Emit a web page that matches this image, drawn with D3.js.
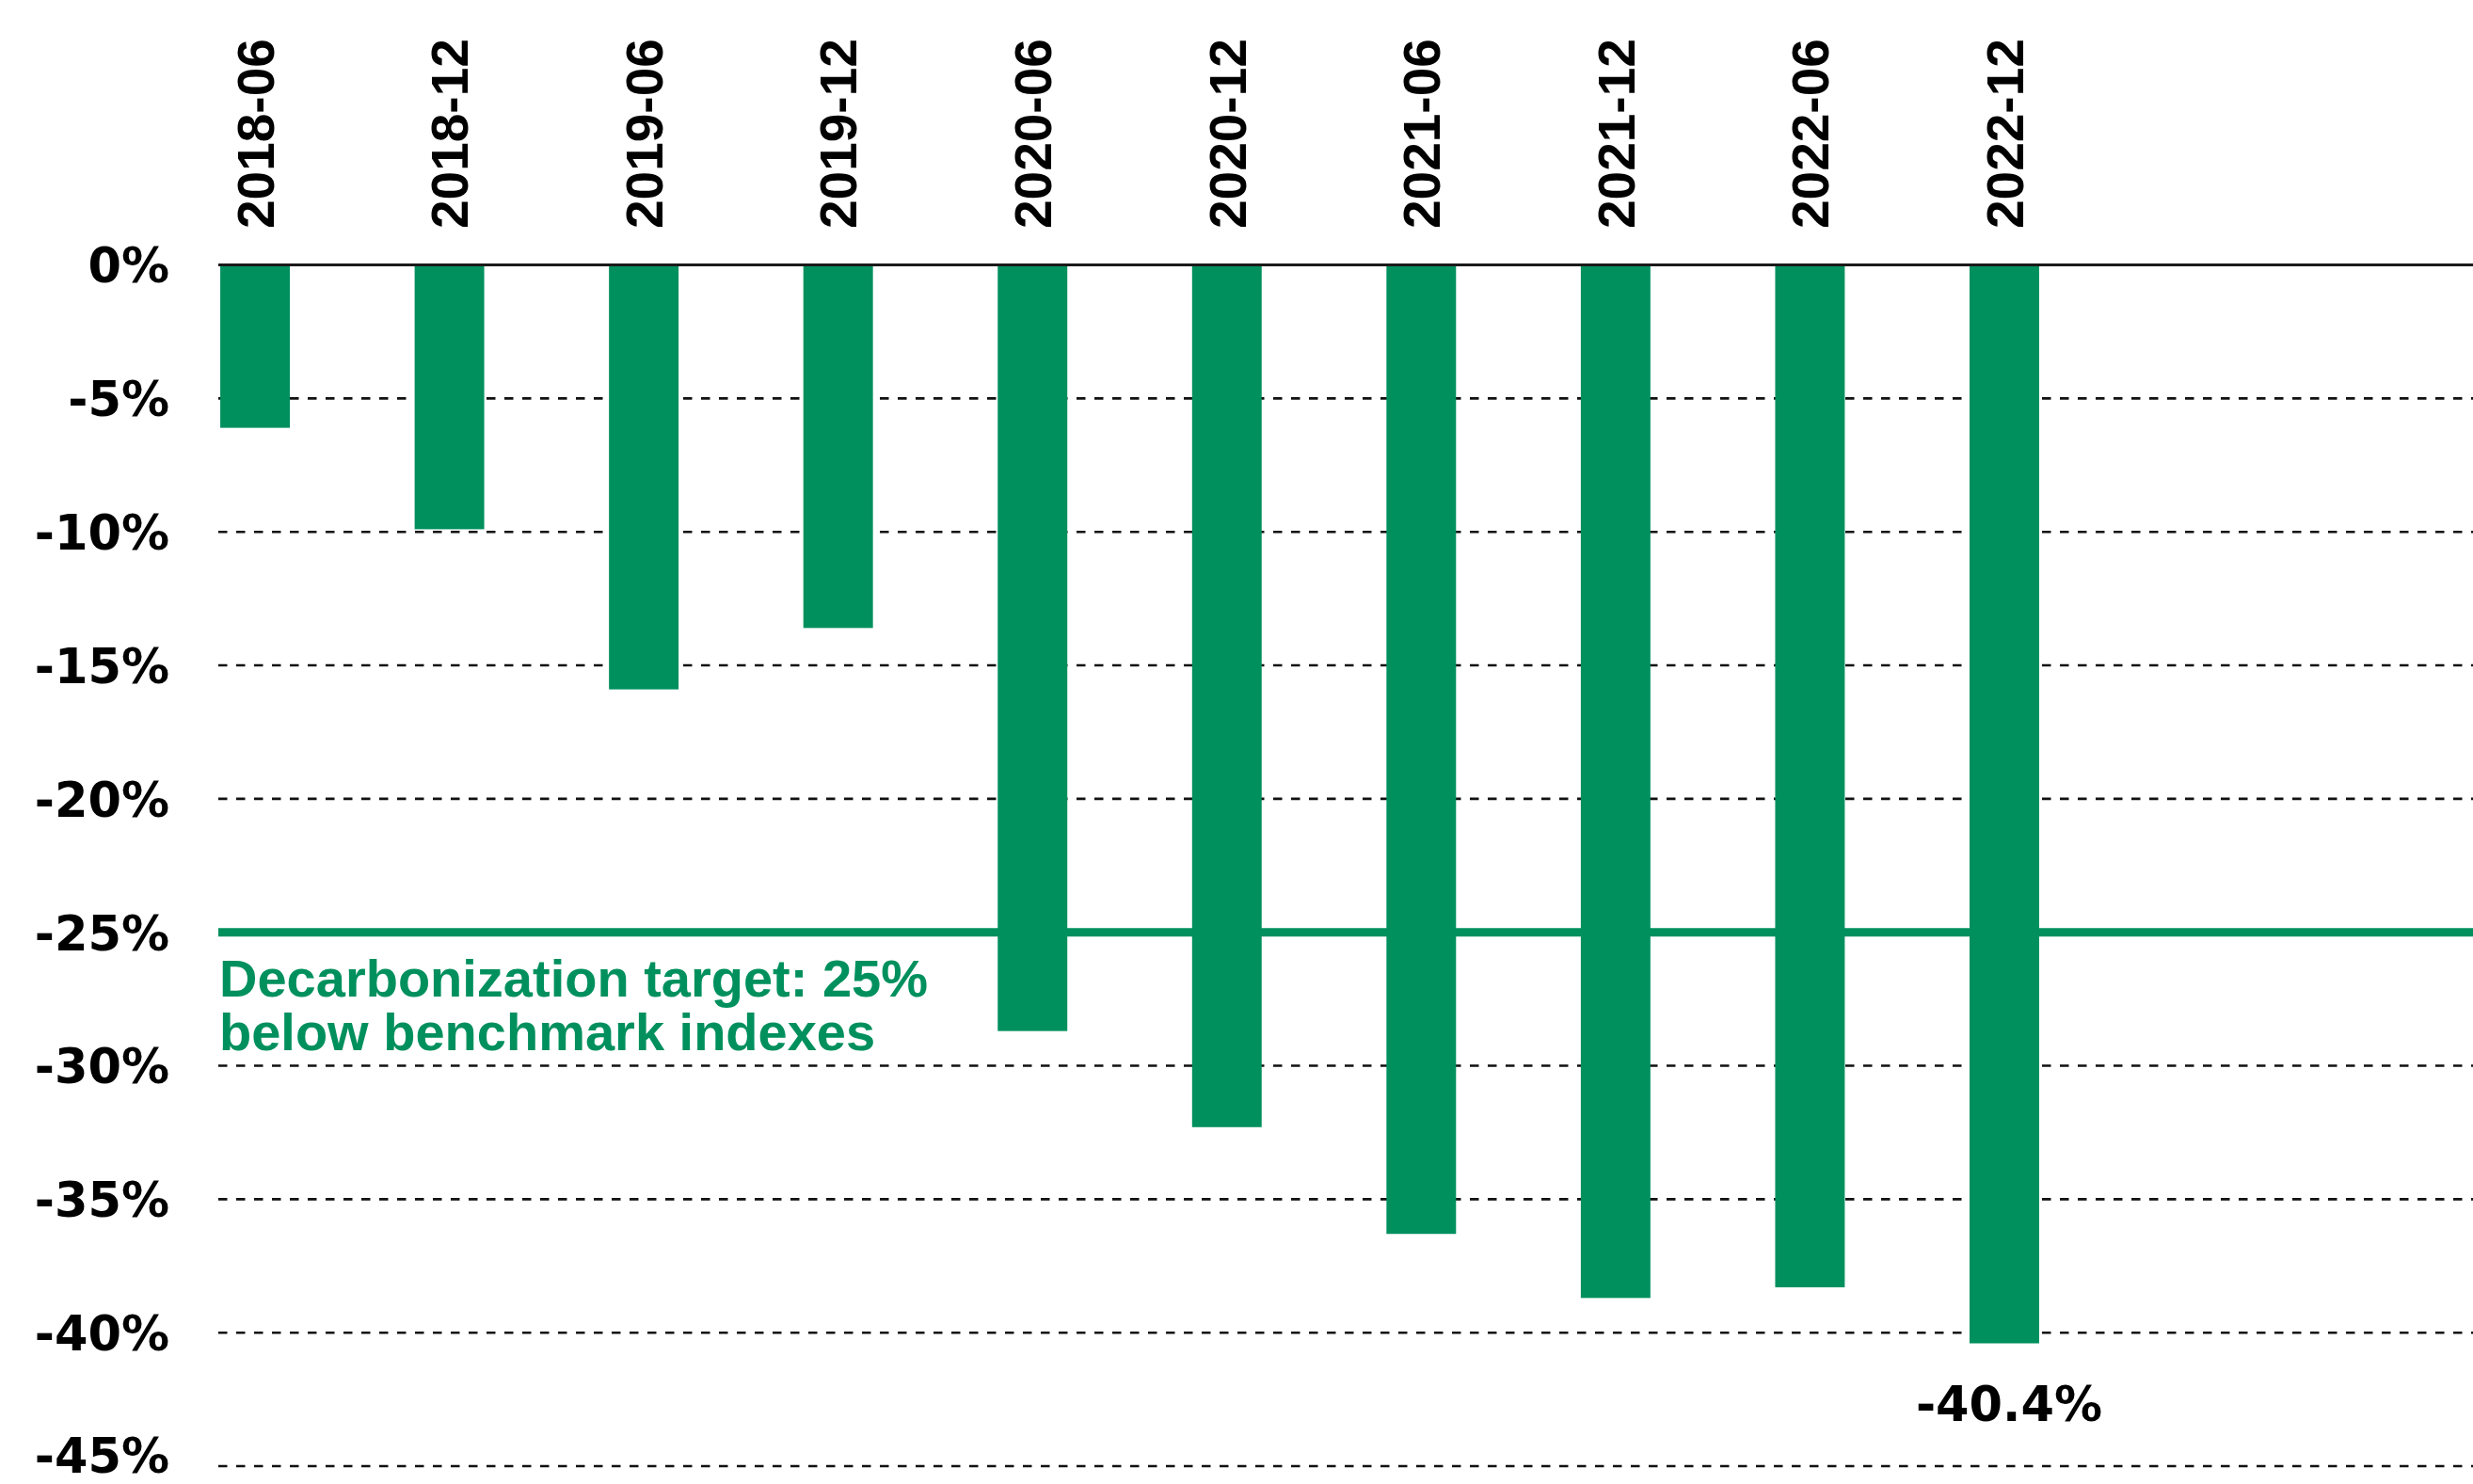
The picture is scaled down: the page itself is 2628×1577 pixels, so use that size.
<!DOCTYPE html>
<html>
<head>
<meta charset="utf-8">
<script src="https://cdn.jsdelivr.net/npm/d3@7"></script>
<style>
  body { margin: 0; background: #fff; }
  svg { display: block; }
</style>
</head>
<body>
<div id="chart"></div>
<script>
var periods = ["2018-06", "2018-12", "2019-06", "2019-12", "2020-06", "2020-12", "2021-06", "2021-12", "2022-06", "2022-12"];
var reduction = [-6.1, -9.9, -15.9, -13.6, -28.7, -32.3, -36.3, -38.7, -38.3, -40.4];
var yTicks = [0, -5, -10, -15, -20, -25, -30, -35, -40, -45];
var target = -25;
var targetText = ["Decarbonization target: 25%", "below benchmark indexes"];

var width = 2628, height = 1577;
var green = "#00905e";
var left = 232;

var svg = d3.select("#chart")
  .append("svg")
  .attr("width", width)
  .attr("height", height);

var x = d3.scaleBand()
  .domain(periods)
  .range([left, 2169])
  .paddingInner(0.642)
  .paddingOuter(0.01);

var y = d3.scaleLinear()
  .domain([0, -45])
  .range([281.6, 1558]);

// dashed grid lines (behind bars)
svg.append("g")
  .selectAll("line")
  .data(yTicks.filter(d => d != 0))
  .enter()
  .append("line")
  .attr("x1", left)
  .attr("x2", width)
  .attr("y1", d => y(d))
  .attr("y2", d => y(d))
  .attr("stroke", "#111")
  .attr("stroke-width", 2.6)
  .attr("stroke-dasharray", "9.5,9.5");

// y labels
var yAxis = svg.append("g")
  .attr("transform", "translate(180,0)")
  .call(d3.axisLeft(y).tickValues(yTicks).tickSize(0).tickPadding(0).tickFormat(d => d + "%"));
yAxis.select(".domain").remove();
yAxis.selectAll("text")
  .attr("font-family", "DejaVu Sans")
  .attr("font-weight", "bold")
  .attr("font-size", 51)
  .attr("fill", "#000")
  .attr("dy", d => d == -45 ? "0.12em" : "0.36em");

// bars
svg.append("g")
  .selectAll("rect")
  .data(reduction)
  .enter()
  .append("rect")
  .attr("x", (d, i) => x(periods[i]))
  .attr("width", x.bandwidth())
  .attr("y", y(0))
  .attr("height", d => y(d) - y(0))
  .attr("fill", green);

// zero line
svg.append("line")
  .attr("x1", left)
  .attr("x2", width)
  .attr("y1", y(0))
  .attr("y2", y(0))
  .attr("stroke", "#1a1a1a")
  .attr("stroke-width", 3);

// target line
svg.append("line")
  .attr("x1", left)
  .attr("x2", width)
  .attr("y1", y(target))
  .attr("y2", y(target))
  .attr("stroke", green)
  .attr("stroke-width", 9);

svg.append("text")
  .attr("x", 233)
  .attr("y", y(target) + 68)
  .attr("font-family", "Liberation Sans")
  .attr("font-weight", "bold")
  .attr("font-size", 56)
  .attr("fill", green)
  .selectAll("tspan")
  .data(targetText)
  .enter()
  .append("tspan")
  .attr("x", 233)
  .attr("dy", (d, i) => i == 0 ? 0 : 57)
  .text(d => d);

// period labels on top, rotated
svg.append("g")
  .selectAll("text")
  .data(periods)
  .enter()
  .append("text")
  .attr("transform", d => "translate(" + (x(d) + x.bandwidth() / 2) + ",243) rotate(-90)")
  .attr("dy", "0.36em")
  .attr("text-anchor", "start")
  .attr("font-family", "Liberation Sans")
  .attr("font-weight", "bold")
  .attr("font-size", 55)
  .attr("fill", "#000")
  .text(d => d);

// last value label
var last = reduction.length - 1;
svg.append("text")
  .attr("x", x(periods[last]) + x.bandwidth() / 2 + 5)
  .attr("y", 1510)
  .attr("text-anchor", "middle")
  .attr("font-family", "DejaVu Sans")
  .attr("font-weight", "bold")
  .attr("font-size", 51)
  .attr("fill", "#000")
  .text(reduction[last] + "%");
</script>
</body>
</html>
